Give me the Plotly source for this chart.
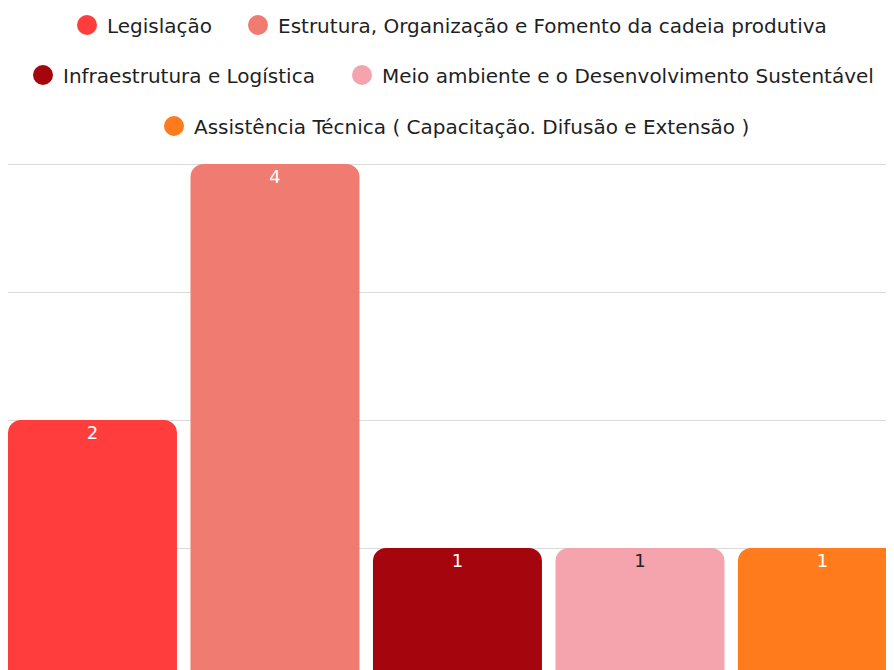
import plotly.graph_objects as go

categories = [
    "Legislação",
    "Estrutura, Organização e Fomento da cadeia produtiva",
    "Infraestrutura e Logística",
    "Meio ambiente e o Desenvolvimento Sustentável",
    "Assistência Técnica ( Capacitação. Difusão e Extensão )",
]
values = [2, 4, 1, 1, 1]
colors = ["#FF3D3D", "#F07B70", "#A5050D", "#F5A4AE", "#FF7B1C"]
label_colors = ["#FFFFFF", "#FFFFFF", "#FFFFFF", "#222222", "#FFFFFF"]

FONT = "DejaVu Sans"
W, H = 894, 670
T, B = 152, 2
PH = H - T - B
Y_TOP = PH / 128.0

legend_ids = ["legend", "legend2", "legend3", "legend4", "legend5"]
legend_cx = [79, 250, 35, 354, 166]
legend_cy = [17, 17, 67, 67, 118]

fig = go.Figure()
fig.add_trace(go.Bar(
    x=categories,
    y=values,
    marker=dict(color=colors, line=dict(width=0)),
    showlegend=False,
    hoverinfo="x+y",
))
fig.add_trace(go.Scatter(
    x=categories,
    y=values,
    mode="markers+text",
    marker=dict(size=7, opacity=0),
    text=[str(v) for v in values],
    textposition="bottom center",
    textfont=dict(color=label_colors, size=18, family=FONT),
    showlegend=False,
    hoverinfo="skip",
))

for name, col, lg in zip(categories, colors, legend_ids):
    fig.add_trace(go.Scatter(
        x=[None], y=[None], mode="markers", name=name,
        marker=dict(symbol="circle", size=16, color=col, line=dict(color=col, width=4)),
        legend=lg, showlegend=True,
    ))

legends = {}
for lg, cx, cy in zip(legend_ids, legend_cx, legend_cy):
    legends[lg] = dict(
        orientation="h", xanchor="left", x=(cx - 20) / W,
        yanchor="middle", y=(H - B - cy) / PH,
        font=dict(family=FONT, size=20, color="#1f1f1f"),
        bgcolor="rgba(0,0,0,0)", itemclick=False, itemdoubleclick=False,
    )

fig.update_layout(
    width=W, height=H,
    margin=dict(l=0, r=0, t=T, b=B, pad=0, autoexpand=False),
    paper_bgcolor="white", plot_bgcolor="white",
    bargap=0.074,
    barcornerradius=13,
    font=dict(family=FONT),
    xaxis=dict(showticklabels=False, showgrid=False, zeroline=False, showline=False,
               ticks="", range=[-0.463, 4.436]),
    yaxis=dict(showticklabels=False, showgrid=True, gridcolor="#D9D9D9", gridwidth=1,
               zeroline=False, showline=False, ticks="", range=[0, Y_TOP], dtick=1),
    **legends,
)

fig.write_html("out.html")
